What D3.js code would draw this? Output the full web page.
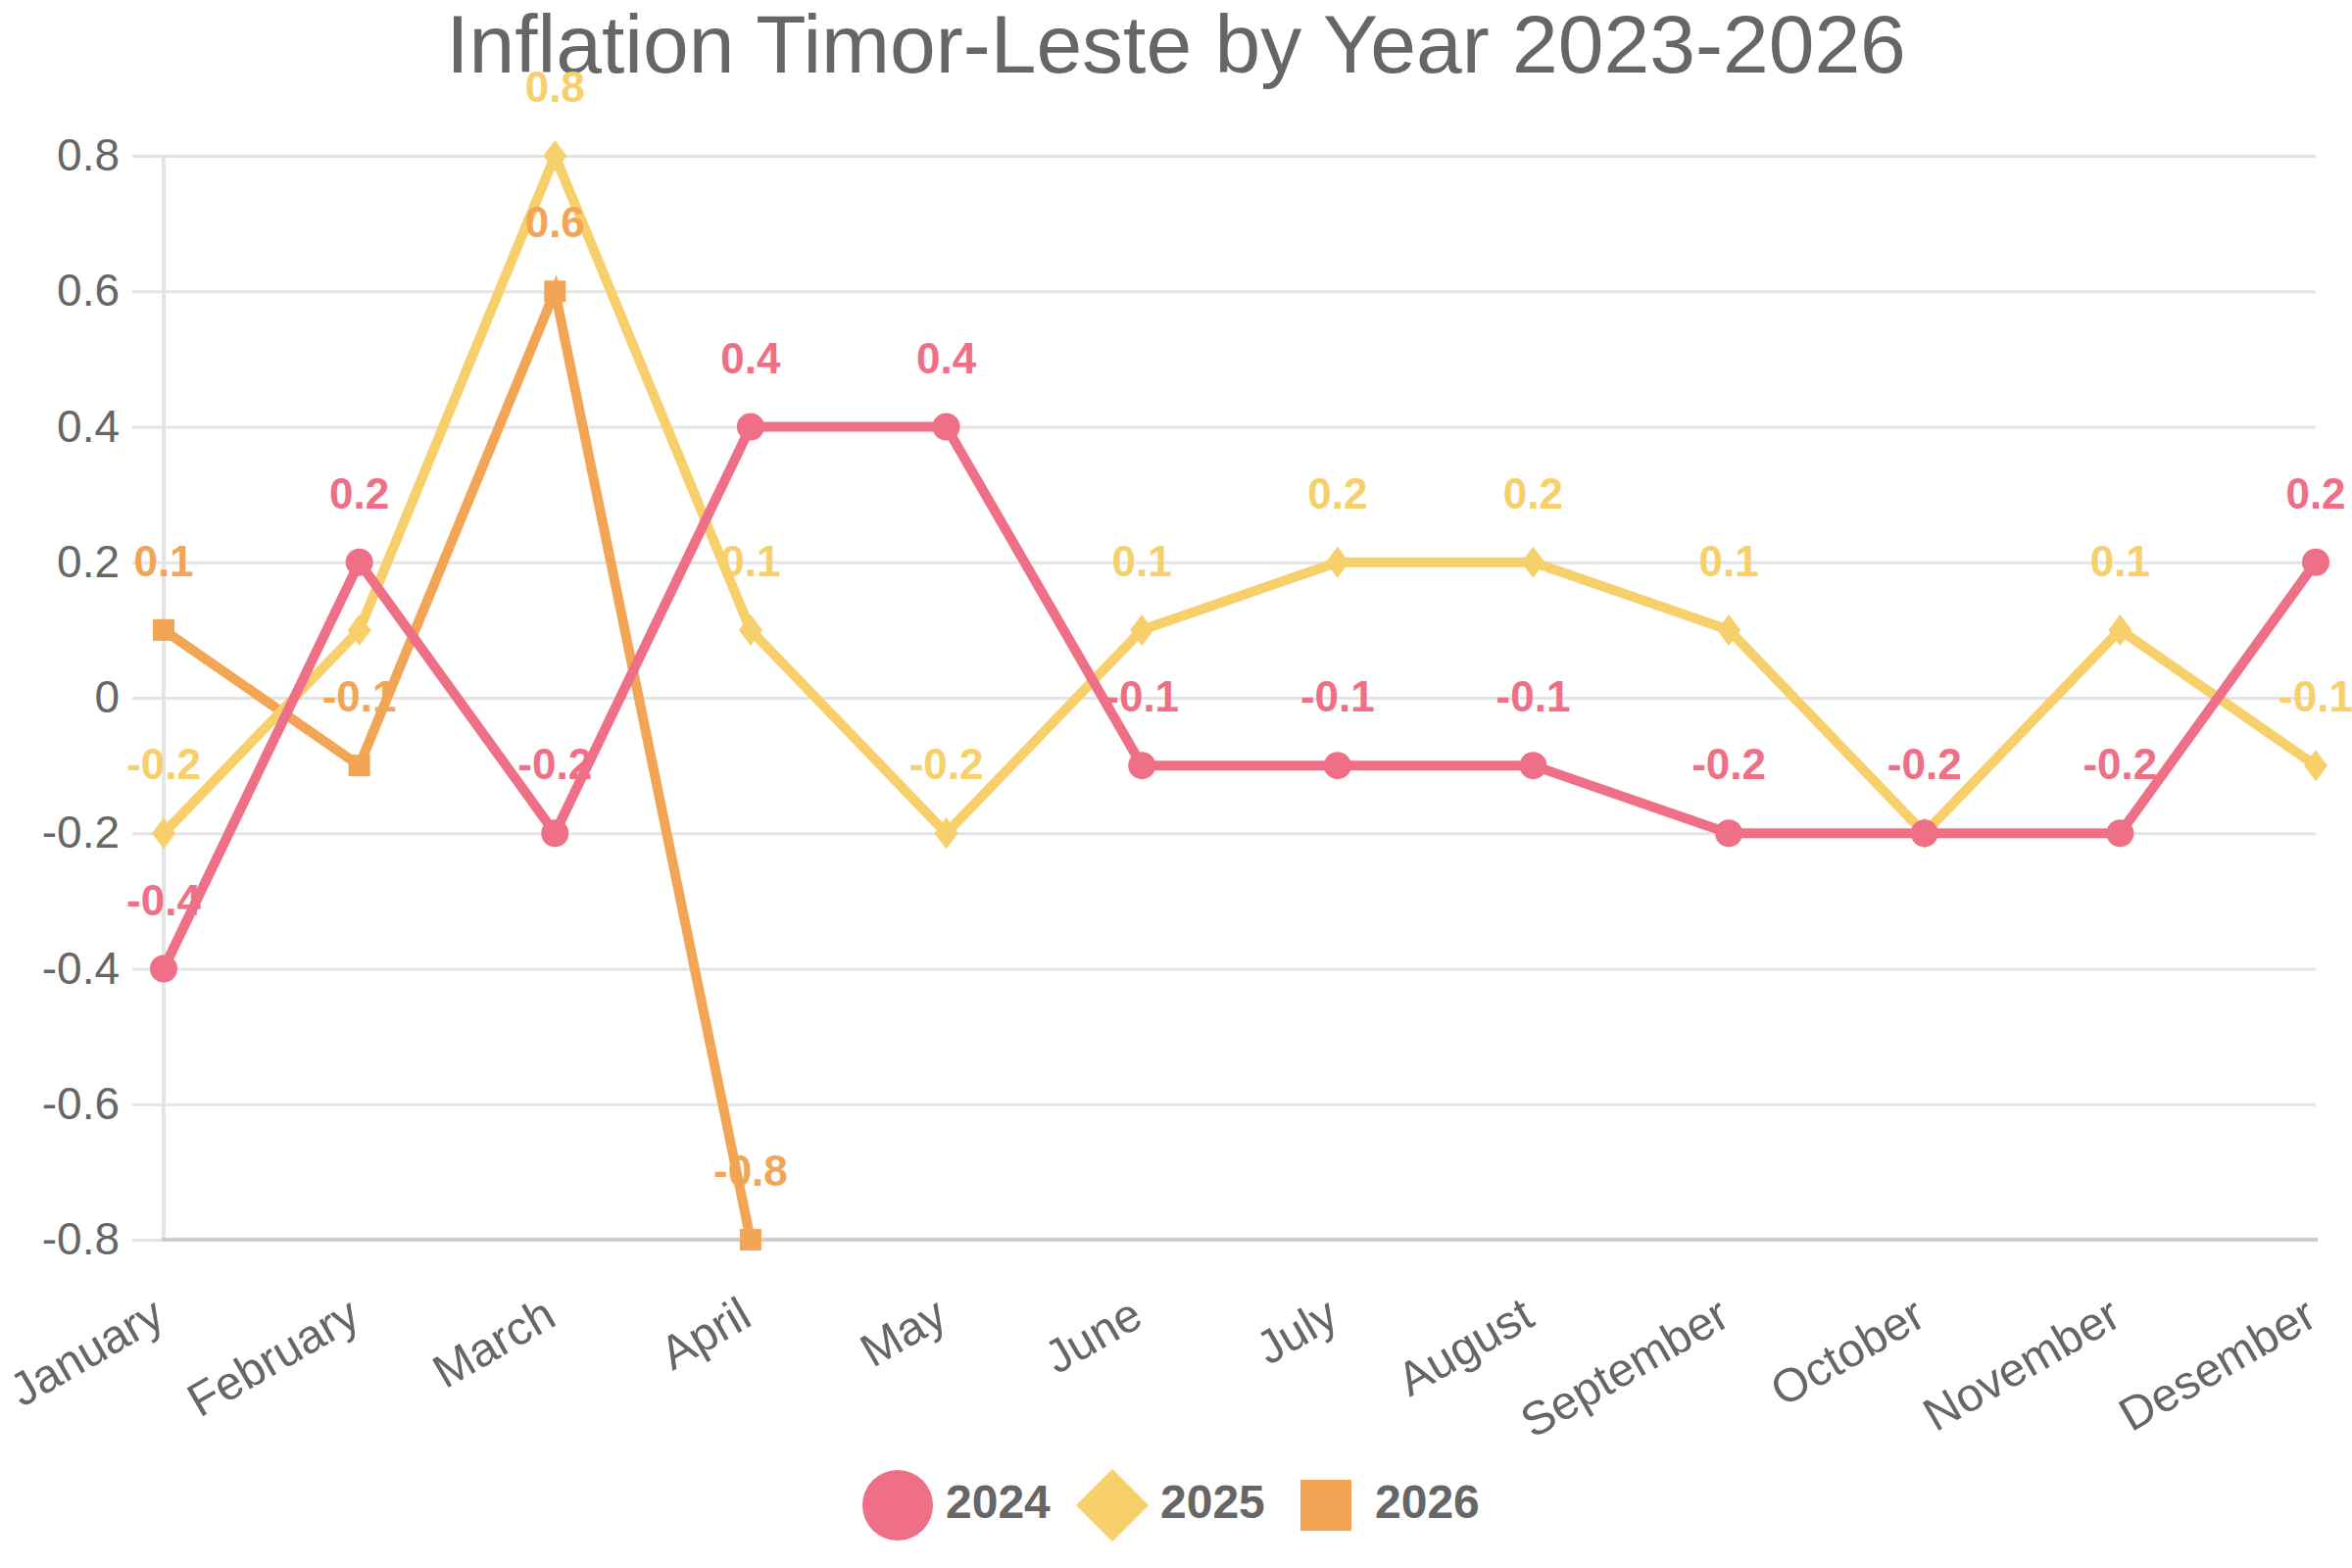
<!DOCTYPE html>
<html>
<head>
<meta charset="utf-8">
<script src="https://cdn.jsdelivr.net/npm/d3@7"></script>
<style>
  html, body { margin: 0; padding: 0; background: #fff; }
  svg text { font-family: "Liberation Sans", Arial, sans-serif; }
</style>
</head>
<body>
<div id="main"></div>
<script>
// data
const months = ["January", "February", "March", "April", "May", "June",
                "July", "August", "September", "October", "November", "Desember"];
const years = ["2024", "2025", "2026"];
const values2024 = [-0.4, 0.2, -0.2, 0.4, 0.4, -0.1, -0.1, -0.1, -0.2, -0.2, -0.2, 0.2];
const values2025 = [-0.2, 0.1, 0.8, 0.1, -0.2, 0.1, 0.2, 0.2, 0.1, -0.2, 0.1, -0.1];
const values2026 = [0.1, -0.1, 0.6, -0.8];
const yTicks = [-0.8, -0.6, -0.4, -0.2, 0, 0.2, 0.4, 0.6, 0.8];
// labels the reference leaves out (hidden by overlap): [series, month index]
const hiddenLabels = [[1, 1], [1, 9]];

const colors = ["#ee6f86", "#f7cf6b", "#f2a554"];
const shapes = ["circle", "diamond", "square"];
const seriesValues = [values2024, values2025, values2026];

function createChart() {
    const width = 2400, height = 1600;
    const left = 167, right = 2363, top = 159, bottom = 1265;

    const svg = d3.select("#main").append("svg")
        .attr("width", width)
        .attr("height", height);

    const x = d3.scalePoint().domain(months).range([left, right]);
    const y = d3.scaleLinear().domain([-0.8, 0.8]).range([bottom, top]);
    const fmt = v => d3.format("~g")(v).replace("\u2212", "-");

    // title
    svg.append("text")
        .attr("x", 1200)
        .attr("y", 74)
        .attr("text-anchor", "middle")
        .attr("font-size", 84)
        .attr("fill", "#666")
        .text("Inflation Timor-Leste by Year 2023-2026");

    // y grid + labels
    const yAxis = svg.append("g")
        .attr("transform", `translate(${left},0)`)
        .call(d3.axisLeft(y).tickValues(yTicks).tickSize(-(right - left)).tickPadding(45).tickFormat(fmt));
    yAxis.select(".domain").remove();
    yAxis.selectAll(".tick line")
        .attr("x1", -32)
        .attr("stroke", "#e4e4e4")
        .attr("stroke-width", 3);
    yAxis.selectAll(".tick text")
        .attr("font-size", 46)
        .attr("fill", "#666")
        .attr("font-family", "Liberation Sans, Arial, sans-serif");

    // left axis line and bottom axis line
    svg.append("line")
        .attr("x1", left).attr("x2", left)
        .attr("y1", top).attr("y2", bottom)
        .attr("stroke", "#e4e4e4").attr("stroke-width", 4);
    svg.append("line")
        .attr("x1", left - 2).attr("x2", right + 2)
        .attr("y1", bottom).attr("y2", bottom)
        .attr("stroke", "#cccccc").attr("stroke-width", 4);

    // x labels, rotated
    const xAxis = svg.append("g")
        .attr("transform", `translate(0,${bottom})`)
        .call(d3.axisBottom(x).tickSize(0).tickPadding(0));
    xAxis.select(".domain").remove();
    xAxis.selectAll(".tick text")
        .attr("font-size", 48)
        .attr("fill", "#666")
        .attr("font-family", "Liberation Sans, Arial, sans-serif")
        .attr("text-anchor", "end")
        .attr("dy", null)
        .attr("y", 0)
        .attr("transform", "translate(3,86) rotate(-30)");

    const line = d3.line()
        .x((d, i) => x(months[i]))
        .y(d => y(d));

    const markerPath = {
        circle: d3.symbol().type(d3.symbolCircle).size(Math.PI * 14 * 14)(),
        diamond: "M0,-16L12,0L0,16L-12,0Z",
        square: d3.symbol().type(d3.symbolSquare).size(22 * 22)()
    };

    // draw later series first so 2024 ends on top
    for (let s = seriesValues.length - 1; s >= 0; s--) {
        const g = svg.append("g");
        g.append("path")
            .datum(seriesValues[s])
            .attr("fill", "none")
            .attr("stroke", colors[s])
            .attr("stroke-width", 10)
            .attr("stroke-linejoin", "miter")
            .attr("stroke-miterlimit", 10)
            .attr("d", line);
        g.selectAll("path.pt")
            .data(seriesValues[s])
            .join("path")
            .attr("class", "pt")
            .attr("transform", (d, i) => `translate(${x(months[i])},${y(d)})`)
            .attr("fill", colors[s])
            .attr("d", markerPath[shapes[s]]);
    }

    // data labels on top
    seriesValues.forEach((vals, s) => {
        const shown = vals.map((v, i) => ({ v, i }))
            .filter(d => !hiddenLabels.some(h => h[0] === s && h[1] === d.i));
        svg.append("g").selectAll("text")
            .data(shown)
            .join("text")
            .attr("x", d => x(months[d.i]))
            .attr("y", d => y(d.v) - 55)
            .attr("text-anchor", "middle")
            .attr("font-size", 44)
            .attr("font-weight", "bold")
            .attr("fill", colors[s])
            .text(d => fmt(d.v));
    });

    // legend
    const legendX = [916, 1135, 1353];
    const legendY = 1536;
    const legend = svg.append("g");
    years.forEach((yr, s) => {
        const cx = legendX[s];
        if (shapes[s] === "circle") {
            legend.append("circle").attr("cx", cx).attr("cy", legendY).attr("r", 36).attr("fill", colors[s]);
        } else if (shapes[s] === "diamond") {
            legend.append("path")
                .attr("d", `M${cx},${legendY - 37}L${cx + 37},${legendY}L${cx},${legendY + 37}L${cx - 37},${legendY}Z`)
                .attr("fill", colors[s]);
        } else {
            legend.append("rect").attr("x", cx - 26).attr("y", legendY - 26)
                .attr("width", 52).attr("height", 52).attr("fill", colors[s]);
        }
        legend.append("text")
            .attr("x", cx + (s === 2 ? 50 : 49))
            .attr("y", legendY + 13)
            .attr("font-size", 48)
            .attr("font-weight", "bold")
            .attr("fill", "#666")
            .text(yr);
    });
}

document.addEventListener("DOMContentLoaded", createChart);
</script>
</body>
</html>
